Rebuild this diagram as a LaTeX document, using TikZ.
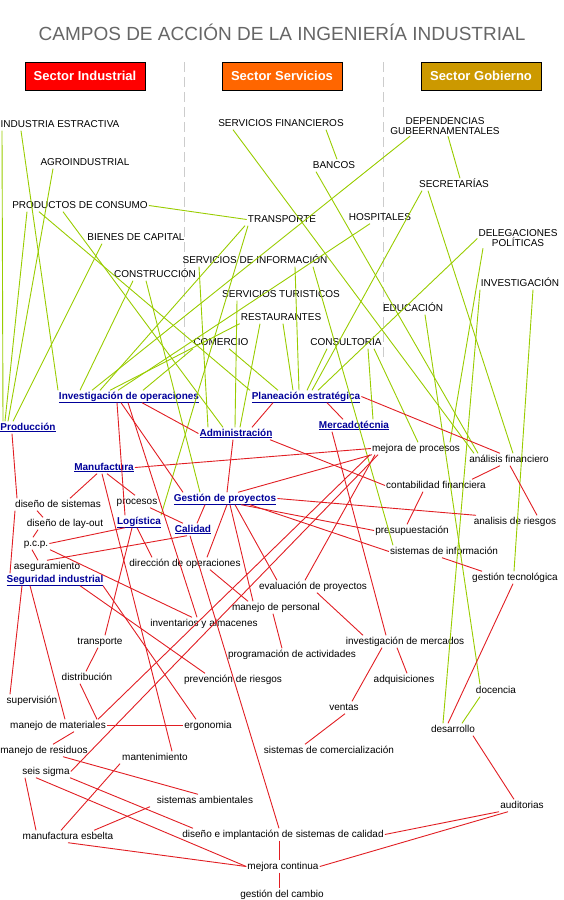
\documentclass[tikz,border=0pt]{standalone}
\usepackage{fontspec}
\setmainfont{Liberation Sans}
\definecolor{grn}{RGB}{153,204,0}
\definecolor{redl}{RGB}{225,30,35}
\definecolor{fld}{RGB}{0,0,153}
\definecolor{ttlgray}{RGB}{102,102,102}
\definecolor{indred}{RGB}{255,0,0}
\definecolor{servor}{RGB}{255,102,0}
\definecolor{gobgold}{RGB}{204,153,0}
\begin{document}
\begin{tikzpicture}[x=1pt, y=-1pt,
  txt/.style={font=\fontsize{10}{10}\selectfont, inner sep=1pt, align=center, yshift=-1.5pt},
  lbl/.style={txt, text height=7.5pt, text depth=2.5pt},
  fieldname/.style={lbl, text=fld, font=\fontsize{10}{10}\selectfont\bfseries},
  hdr/.style={draw=black, line width=0.8pt, minimum width=120pt, minimum height=28pt, text=white, font=\fontsize{13}{13}\selectfont\bfseries},
  glink/.style={draw=grn, line width=0.9pt},
  rlink/.style={draw=redl, line width=0.9pt},
  divline/.style={draw=black!20, line width=0.9pt, dash pattern=on 10pt off 5pt}]
  \useasboundingbox (0,0) rectangle (563,900);
  \node[text=ttlgray, font=\fontsize{19}{19}\selectfont] (ttl) at (282,32) {CAMPOS DE ACCIÓN DE LA INGENIERÍA INDUSTRIAL};
  \node[hdr, fill=indred] (hind) at (85,76) {Sector Industrial};
  \node[hdr, fill=servor] (hser) at (282,76) {Sector Servicios};
  \node[hdr, fill=gobgold] (hgob) at (481,76) {Sector Gobierno};
  \draw[divline] (184.5,62) -- (184.5,358);
  \draw[divline] (383.5,62) -- (383.5,358);

  \node[lbl] (ie) at (60,123) {INDUSTRIA ESTRACTIVA};
  \node[lbl] (agro) at (85,161) {AGROINDUSTRIAL};
  \node[lbl] (pdc) at (80,204) {PRODUCTOS DE CONSUMO};
  \node[lbl] (bdc) at (136,236) {BIENES DE CAPITAL};
  \node[lbl] (constr) at (155,273) {CONSTRUCCIÓN};
  \node[lbl] (sfin) at (281,122) {SERVICIOS FINANCIEROS};
  \node[lbl] (bancos) at (334,164) {BANCOS};
  \node[lbl] (transp) at (282,218) {TRANSPORTE};
  \node[lbl] (hosp) at (380,216) {HOSPITALES};
  \node[lbl] (sinfo) at (255,259) {SERVICIOS DE INFORMACIÓN};
  \node[lbl] (stur) at (281,293) {SERVICIOS TURISTICOS};
  \node[lbl] (rest) at (281,316) {RESTAURANTES};
  \node[lbl] (comer) at (221,341) {COMERCIO};
  \node[lbl] (consul) at (346,341) {CONSULTORÍA};
  \node[txt] (dep) at (445,125) {DEPENDENCIAS\\GUBEERNAMENTALES};
  \node[lbl] (secr) at (454,183) {SECRETARÍAS};
  \node[txt] (deleg) at (518,237) {DELEGACIONES\\POLÍTICAS};
  \node[lbl] (invest) at (520,282) {INVESTIGACIÓN};
  \node[lbl] (educ) at (413,307) {EDUCACIÓN};

  \node[fieldname] (io) at (129,395) {\underline{Investigación de operaciones}};
  \node[fieldname] (pe) at (306,395) {\underline{Planeación estratégica}};
  \node[fieldname] (prod) at (28,426) {\underline{Producción}};
  \node[fieldname] (adm) at (236,432) {\underline{Administración}};
  \node[fieldname] (merc) at (354,424) {\underline{Mercadotécnia}};
  \node[fieldname] (manuf) at (104,466) {\underline{Manufactura}};
  \node[fieldname] (gdp) at (225,497) {\underline{Gestión de proyectos}};
  \node[fieldname] (logi) at (139,520) {\underline{Logística}};
  \node[fieldname] (cal) at (193,528) {\underline{Calidad}};
  \node[fieldname] (segi) at (55,578) {\underline{Seguridad industrial}};

  \node[lbl] (mproc) at (416,447) {mejora de procesos};
  \node[lbl] (afin) at (509,458) {análisis financiero};
  \node[lbl] (cfin) at (436,484) {contabilidad financiera};
  \node[lbl] (dsis) at (58,503) {diseño de sistemas};
  \node[lbl] (proc) at (137,500) {procesos};
  \node[lbl] (arie) at (515,520) {analisis de riesgos};
  \node[lbl] (dlay) at (65,522) {diseño de lay-out};
  \node[lbl] (presu) at (412,529) {presupuestación};
  \node[lbl] (pcp) at (36,542) {p.c.p.};
  \node[lbl] (sinf) at (444,550) {sistemas de información};
  \node[lbl] (dirop) at (185,562) {dirección de operaciones};
  \node[lbl] (aseg) at (47,565) {aseguramiento};
  \node[lbl] (gtec) at (515,576) {gestión tecnológica};
  \node[lbl] (evap) at (313,585) {evaluación de proyectos};
  \node[lbl] (mper) at (276,606) {manejo de personal};
  \node[lbl] (inv) at (204,622) {inventarios y almacenes};
  \node[lbl] (imer) at (405,640) {investigación de mercados};
  \node[lbl] (trans) at (100,640) {transporte};
  \node[lbl] (prog) at (292,653) {programación de actividades};
  \node[lbl] (distr) at (87,676) {distribución};
  \node[lbl] (prev) at (233,678) {prevención de riesgos};
  \node[lbl] (adq) at (404,678) {adquisiciones};
  \node[lbl] (doc) at (496,689) {docencia};
  \node[lbl] (superv) at (32,699) {supervisión};
  \node[lbl] (ventas) at (344,706) {ventas};
  \node[lbl] (mmat) at (58,724) {manejo de materiales};
  \node[lbl] (ergo) at (208,724) {ergonomia};
  \node[lbl] (desa) at (453,728) {desarrollo};
  \node[lbl] (mres) at (44,749) {manejo de residuos};
  \node[lbl] (scom) at (329,749) {sistemas de comercialización};
  \node[lbl] (mant) at (155,756) {mantenimiento};
  \node[lbl] (seis) at (46,770) {seis sigma};
  \node[lbl] (samb) at (205,799) {sistemas ambientales};
  \node[lbl] (audi) at (522,804) {auditorias};
  \node[lbl] (mesb) at (68,835) {manufactura esbelta};
  \node[lbl] (dimp) at (283,833) {diseño e implantación de sistemas de calidad};
  \node[lbl] (mcon) at (283,865) {mejora continua};
  \node[lbl] (gcam) at (282,893) {gestión del cambio};

  \draw[glink] (2,0 |- ie.south) -- (3,0 |- prod.north);
  \draw[glink] (21,0 |- ie.south) -- (58,0 |- io.north);
  \draw[glink] (53,0 |- agro.south) -- (8,0 |- prod.north);
  \draw[glink] (27,0 |- pdc.south) -- (5,0 |- prod.north);
  \draw[glink] (pdc.east) -- (transp.west);
  \draw[glink] (39,0 |- pdc.south) -- (250,0 |- pe.north);
  \draw[glink] (63,0 |- pdc.south) -- (223,0 |- adm.north);
  \draw[glink] (102,0 |- bdc.south) -- (13,0 |- prod.north);
  \draw[glink] (133,0 |- constr.south) -- (80,0 |- io.north);
  \draw[glink] (146,0 |- constr.south) -- (200,0 |- gdp.north);
  \draw[glink] (199,0 |- sinfo.south) -- (208,0 |- adm.north);
  \draw[glink] (295,0 |- sinfo.south) -- (299,0 |- pe.north);
  \draw[glink] (313,0 |- sinfo.south) -- (393,0 |- sinf.north);
  \draw[glink] (245,0 |- transp.south) -- (100,0 |- io.north);
  \draw[glink] (248,0 |- transp.south) -- (161,0 |- logi.north);
  \draw[glink] (326,0 |- sfin.south) -- (337,0 |- bancos.north);
  \draw[glink] (233,0 |- sfin.south) -- (474,0 |- afin.north);
  \draw[glink] (316,0 |- bancos.south) -- (478,0 |- afin.north);
  \draw[glink] (410,0 |- dep.south) -- (92,0 |- io.north);
  \draw[glink] (448,0 |- dep.south) -- (460,0 |- secr.north);
  \draw[glink] (370,0 |- hosp.south) -- (118,0 |- io.north);
  \draw[glink] (237,0 |- stur.south) -- (235,0 |- adm.north);
  \draw[glink] (260,0 |- rest.south) -- (240,0 |- adm.north);
  \draw[glink] (283,0 |- rest.south) -- (293,0 |- pe.north);
  \draw[glink] (rest.south west) -- (110,0 |- io.north);
  \draw[glink] (193,0 |- comer.south) -- (143,0 |- io.north);
  \draw[glink] (229,0 |- comer.south) -- (278,0 |- pe.north);
  \draw[glink] (327,0 |- consul.south) -- (307,0 |- pe.north);
  \draw[glink] (368,0 |- consul.south) -- (373,0 |- merc.north);
  \draw[glink] (374,0 |- consul.south) -- (418,0 |- mproc.north);
  \draw[glink] (422,0 |- secr.south) -- (312,0 |- pe.north);
  \draw[glink] (428,0 |- secr.south) -- (513,0 |- afin.north);
  \draw[glink] (deleg.west) -- (318,0 |- pe.north);
  \draw[glink] (483,0 |- deleg.south) -- (450,0 |- mproc.north);
  \draw[glink] (480,0 |- invest.south) -- (443,0 |- desa.north);
  \draw[glink] (533,0 |- invest.south) -- (514,0 |- gtec.north);
  \draw[glink] (425,0 |- educ.south) -- (480,0 |- doc.north);
  \draw[glink] (480,0 |- doc.south) -- (462,0 |- desa.north);

  \draw[rlink] (117,0 |- io.south) -- (125,0 |- logi.north);
  \draw[rlink] (121,0 |- io.south) -- (183,0 |- gdp.north);
  \draw[rlink] (128,0 |- io.south) -- (197,0 |- inv.north);
  \draw[rlink] (142,0 |- io.south) -- (adm.west);
  \draw[rlink] (273,0 |- pe.south) -- (252,0 |- adm.north);
  \draw[rlink] (327,0 |- pe.south) -- (343,0 |- merc.north);
  \draw[rlink] (pe.east) -- (500,0 |- afin.north);
  \draw[rlink] (233,0 |- adm.south) -- (227,0 |- gdp.north);
  \draw[rlink] (270,0 |- adm.south) -- (cfin.west);
  \draw[rlink] (332,0 |- merc.south) -- (386,0 |- imer.north);
  \draw[rlink] (manuf.east) -- (mproc.west);
  \draw[rlink] (97,0 |- manuf.south) -- (70,0 |- dsis.north);
  \draw[rlink] (107,0 |- manuf.south) -- (135,0 |- proc.north);
  \draw[rlink] (102,0 |- manuf.south) -- (172,0 |- mant.north);
  \draw[rlink] (12,0 |- prod.south) -- (17,0 |- dsis.north);
  \draw[rlink] (15,0 |- dsis.south) -- (10,0 |- segi.north);
  \draw[rlink] (37,0 |- dsis.south) -- (43,0 |- dlay.north);
  \draw[rlink] (38,0 |- dlay.south) -- (33,0 |- pcp.north);
  \draw[rlink] (32,0 |- pcp.south) -- (38,0 |- aseg.north);
  \draw[rlink] (pcp.east) -- (125,0 |- logi.south);
  \draw[rlink] (50,0 |- pcp.south) -- (192,0 |- inv.north);
  \draw[rlink] (47,0 |- aseg.north) -- (187,0 |- cal.south);
  \draw[rlink] (137,0 |- logi.south) -- (152,0 |- dirop.north);
  \draw[rlink] (132,0 |- logi.south) -- (105,0 |- trans.north);
  \draw[rlink] (150,0 |- proc.south) -- (183,0 |- cal.north);
  \draw[rlink] (205,0 |- gdp.south) -- (197,0 |- cal.north);
  \draw[rlink] (190,0 |- cal.south) -- (279,0 |- dimp.north);
  \draw[rlink] (238,0 |- gdp.north) -- (372,0 |- mproc.south);
  \draw[rlink] (gdp.east) -- (476,0 |- arie.north);
  \draw[rlink] (241,0 |- gdp.south) -- (presu.west);
  \draw[rlink] (250,0 |- gdp.south) -- (sinf.west);
  \draw[rlink] (227,0 |- gdp.south) -- (207,0 |- dirop.north);
  \draw[rlink] (230,0 |- gdp.south) -- (253,0 |- mper.north);
  \draw[rlink] (235,0 |- gdp.south) -- (277,0 |- evap.north);
  \draw[rlink] (210,0 |- dirop.south) -- (248,0 |- mper.north);
  \draw[rlink] (273,0 |- mper.south) -- (282,0 |- prog.north);
  \draw[rlink] (317,0 |- evap.south) -- (363,0 |- imer.north);
  \draw[rlink] (375,0 |- mproc.south) -- (305,0 |- evap.north);
  \draw[rlink] (370,0 |- mproc.south) -- (98,0 |- mmat.north);
  \draw[rlink] (378,0 |- mproc.south) -- (seis.east);
  \draw[rlink] (423,0 |- cfin.south) -- (407,0 |- presu.north);
  \draw[rlink] (500,0 |- afin.south) -- (472,0 |- cfin.north);
  \draw[rlink] (510,0 |- afin.south) -- (537,0 |- arie.north);
  \draw[rlink] (442,0 |- sinf.south) -- (482,0 |- gtec.north);
  \draw[rlink] (513,0 |- gtec.south) -- (448,0 |- desa.north);
  \draw[rlink] (397,0 |- imer.south) -- (407,0 |- adq.north);
  \draw[rlink] (382,0 |- imer.south) -- (352,0 |- ventas.north);
  \draw[rlink] (345,0 |- ventas.south) -- (305,0 |- scom.north);
  \draw[rlink] (473,0 |- desa.south) -- (514,0 |- audi.north);
  \draw[rlink] (499,0 |- audi.south) -- (dimp.east);
  \draw[rlink] (508,0 |- audi.south) -- (mcon.east);
  \draw[rlink] (279,0 |- dimp.south) -- (279,0 |- mcon.north);
  \draw[rlink] (279,0 |- mcon.south) -- (279,0 |- gcam.north);
  \draw[rlink] (22,0 |- segi.south) -- (10,0 |- superv.north);
  \draw[rlink] (30,0 |- segi.south) -- (65,0 |- mmat.north);
  \draw[rlink] (103,0 |- segi.south) -- (196,0 |- ergo.north);
  \draw[rlink] (80,0 |- segi.south) -- (205,0 |- prev.north);
  \draw[rlink] (98,0 |- trans.south) -- (86,0 |- distr.north);
  \draw[rlink] (80,0 |- distr.south) -- (97,0 |- mmat.north);
  \draw[rlink] (mmat.east) -- (ergo.west);
  \draw[rlink] (74,0 |- mmat.south) -- (53,0 |- mres.north);
  \draw[rlink] (63,0 |- mres.south) -- (198,0 |- samb.north);
  \draw[rlink] (25,0 |- seis.south) -- (36,0 |- mesb.north);
  \draw[rlink] (36,0 |- seis.south) -- (mcon.west);
  \draw[rlink] (70,0 |- seis.south) -- (193,0 |- dimp.north);
  \draw[rlink] (120,0 |- mant.south) -- (61,0 |- mesb.north);
  \draw[rlink] (150,0 |- samb.south) -- (94,0 |- mesb.north);
  \draw[rlink] (68,0 |- mesb.south) -- (mcon.west);
\end{tikzpicture}
\end{document}
